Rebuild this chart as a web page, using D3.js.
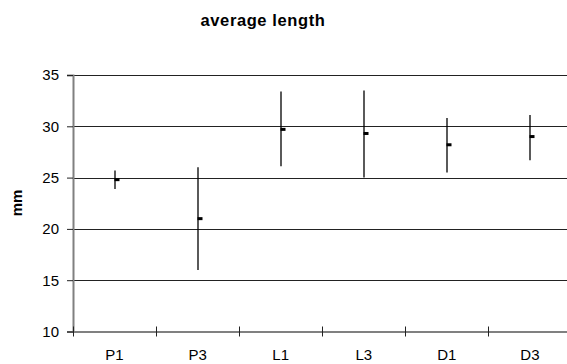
<!DOCTYPE html>
<html>
<head>
<meta charset="utf-8">
<script src="https://cdn.jsdelivr.net/npm/d3@7"></script>
<style>
	body { margin: 0; background: #fff; }
	text { font-family: "Liberation Sans", Arial, sans-serif; }
</style>
</head>
<body>
<div id="graphicContainer"></div>
<script>

var categories = ["P1", "P3", "L1", "L3", "D1", "D3"]
var means = [24.8, 21.0, 29.7, 29.3, 28.2, 29.0]
var highs = [25.7, 26.0, 33.4, 33.5, 30.8, 31.1]
var lows = [23.9, 16.0, 26.1, 25.0, 25.5, 26.7]
var yTicks = [10, 15, 20, 25, 30, 35]

function init() {

	var width = 567
	var height = 364
	var margin = {top: 75, right: -4.5, bottom: 32.5, left: 73}

	var svg = d3.select("#graphicContainer").append("svg")
		.attr("width", width)
		.attr("height", height)
		.attr("overflow", "hidden")

	var x = d3.scaleBand()
		.domain(categories)
		.range([margin.left, width - margin.right])

	var y = d3.scaleLinear()
		.domain([10, 35])
		.range([height - margin.bottom, margin.top])

	// title
	svg.append("text")
		.attr("x", 263)
		.attr("y", 26)
		.attr("text-anchor", "middle")
		.style("font-size", "16.5px")
		.style("font-weight", "bold")
		.style("letter-spacing", "0.6px")
		.text("average length")

	// gridlines
	svg.append("g")
		.selectAll("line")
		.data(yTicks.filter(d => d > 10))
		.enter()
		.append("line")
		.attr("x1", margin.left)
		.attr("x2", width)
		.attr("y1", d => Math.round(y(d)) + 0.5)
		.attr("y2", d => Math.round(y(d)) + 0.5)
		.attr("stroke", "#222")
		.attr("stroke-width", 1)

	// y axis
	var yAxis = svg.append("g")
		.attr("transform", "translate(" + margin.left + ",0)")
		.call(d3.axisLeft(y).tickValues(yTicks).tickSize(6).tickPadding(8))
	yAxis.select(".domain").attr("stroke", "#808080").attr("stroke-width", 2)
	yAxis.selectAll(".tick line").attr("stroke", "#222")
	yAxis.selectAll(".tick text")
		.style("font-family", "Liberation Sans, Arial, sans-serif")
		.style("font-size", "15px")
		.attr("fill", "#000")

	// x axis
	var xAxis = svg.append("g")
		.attr("transform", "translate(0," + y(10) + ")")
		.call(d3.axisBottom(x).tickSize(0).tickPadding(18))
	xAxis.select(".domain").attr("stroke", "#808080").attr("stroke-width", 2)
	xAxis.selectAll(".tick text")
		.style("font-family", "Liberation Sans, Arial, sans-serif")
		.style("font-size", "15px")
		.attr("fill", "#000")

	// category boundary ticks (cross style)
	svg.append("g")
		.selectAll("line")
		.data(categories)
		.enter()
		.append("line")
		.attr("x1", d => Math.round(x(d)) + 0.5)
		.attr("x2", d => Math.round(x(d)) + 0.5)
		.attr("y1", y(10) - 5)
		.attr("y2", y(10) + 5)
		.attr("stroke", "#222")
		.attr("stroke-width", 1)

	// axis title
	svg.append("text")
		.attr("transform", "translate(22,203) rotate(-90)")
		.attr("text-anchor", "middle")
		.style("font-size", "15px")
		.style("font-weight", "bold")
		.text("mm")

	var cx = d => Math.round(x(d) + x.bandwidth() / 2)

	// error bars
	svg.append("g")
		.selectAll("line")
		.data(categories)
		.enter()
		.append("line")
		.attr("x1", d => cx(d))
		.attr("x2", d => cx(d))
		.attr("y1", (d, i) => y(highs[i]))
		.attr("y2", (d, i) => y(lows[i]))
		.attr("stroke", "#000")
		.attr("stroke-width", 1.3)

	// mean markers
	svg.append("g")
		.selectAll("rect")
		.data(categories)
		.enter()
		.append("rect")
		.attr("x", d => cx(d) - 0.5)
		.attr("y", (d, i) => y(means[i]) - 1.5)
		.attr("width", 5)
		.attr("height", 3)
		.attr("fill", "#000")
}

init()
</script>
</body>
</html>
